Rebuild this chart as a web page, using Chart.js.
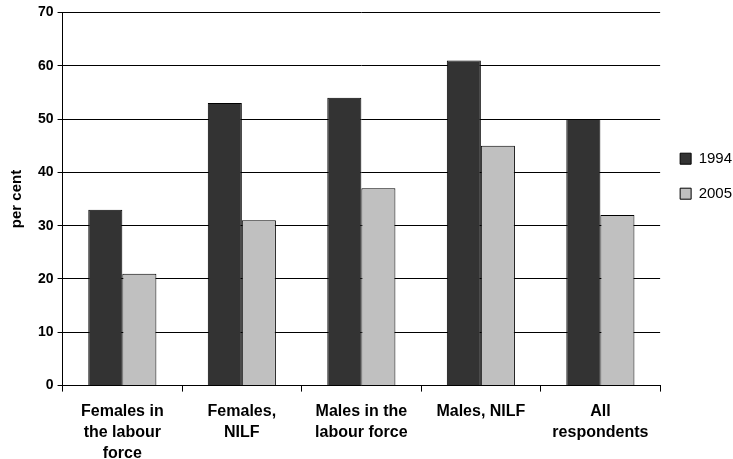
<!DOCTYPE html>
<html>
<head>
<meta charset="utf-8">
<script src="https://cdn.jsdelivr.net/npm/chart.js@4.4.0/dist/chart.umd.min.js"></script>
<style>
  body { margin:0; background:#fff; }
  #wrap { position:relative; width:733px; height:459px; }
</style>
</head>
<body>
<div id="wrap"><canvas id="c"></canvas></div>
<script>
const categories = [
  ['Females in', 'the labour', 'force'],
  ['Females,', 'NILF'],
  ['Males in the', 'labour force'],
  ['Males, NILF'],
  ['All', 'respondents']
]
const values1994 = [33, 53, 54, 61, 50]
const values2005 = [21, 31, 37, 45, 32]
const yTicks = [0, 10, 20, 30, 40, 50, 60, 70]

const font = 'Liberation Sans, Arial, sans-serif'

new Chart(document.getElementById('c'), {
  type: 'bar',
  data: {
    labels: categories,
    datasets: [
      { label: '1994', data: values1994, backgroundColor: '#333333', borderColor: '#000', borderWidth: 1 },
      { label: '2005', data: values2005, backgroundColor: '#c0c0c0', borderColor: '#000', borderWidth: 1 }
    ]
  },
  options: {
    responsive: true,
    maintainAspectRatio: false,
    animation: false,
    layout: { padding: { top: 5, right: -9, left: 4, bottom: -15 } },
    datasets: { bar: { categoryPercentage: 0.57, barPercentage: 1 } },
    plugins: {
      legend: {
        position: 'right',
        align: 'start',
        title: { display: true, text: ' ', font: { size: 1 }, padding: { top: 125, bottom: 0 } },
        labels: {
          color: '#000',
          font: { family: font, size: 15, lineHeight: 1.4 },
          boxWidth: 11, boxHeight: 11,
          padding: 20
        }
      },
      tooltip: { enabled: false }
    },
    scales: {
      x: {
        grid: { offset: true, drawOnChartArea: false, color: '#000', tickLength: 6 },
        border: { color: '#000' },
        ticks: { color: '#000', font: { family: font, size: 16, weight: 'bold', lineHeight: 1.3 }, maxRotation: 0, padding: 10 }
      },
      y: {
        min: 0, max: 70,
        afterBuildTicks: s => { s.ticks = yTicks.map(v => ({ value: v })) },
        grid: { color: '#000', tickLength: 5 },
        border: { color: '#000' },
        ticks: { color: '#000', font: { family: font, size: 14, weight: 'bold' }, padding: 4 },
        title: { display: true, text: 'per cent', color: '#000', font: { family: font, size: 15, weight: 'bold' }, padding: { bottom: 8 } }
      }
    }
  }
})
</script>
</body>
</html>
